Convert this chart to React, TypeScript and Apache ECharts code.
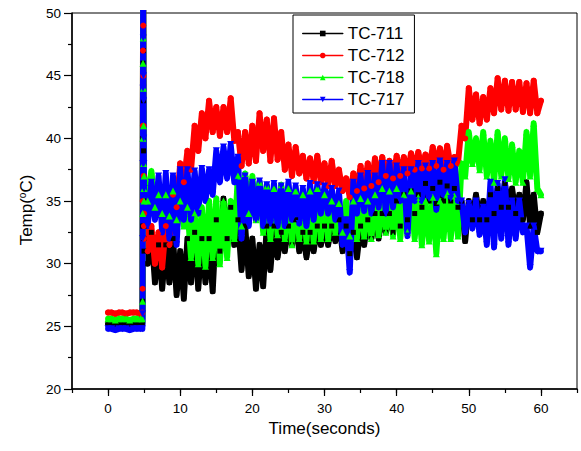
import React, { useEffect, useRef } from "react";
import * as echarts from "echarts";

// ---- time grids (seconds) ----
const flatTimes = [0, 0.5, 1, 1.5, 2, 2.5, 3, 3.5, 4, 4.5, 4.75];
const spikeTimes = [4.78, 4.8, 4.82, 4.84, 4.86, 4.88, 4.9, 4.92, 4.94, 4.96, 4.98];
const mainTimes = Array.from({ length: 111 }, (_, i) => 5 + 0.5 * i);

// ---- TC-711 (black) ----
const tc711Flat = [25.2, 25.1, 25.2, 25.2, 25.1, 25.2, 25.2, 25.1, 25.2, 25.2, 25.2];
const tc711Spike = [27, 33, 40, 46, 52, 47, 43, 39, 35, 32, 31];
const tc711Main = [
  33, 30, 32.5, 28.5, 31.5, 28, 31.5, 28.5, 32, 27.5,
  31, 27.2, 32, 28.5, 32.5, 28, 32, 28.5, 32, 27.8,
  33.5, 31, 35.2, 32, 34.5, 31.5, 33.5, 29.5, 33, 29,
  32, 28, 31.5, 28.2, 33, 29.5, 33, 30.5, 32.5, 31,
  33, 31.5, 33.5, 31, 32.5, 30.5, 32.5, 31, 33, 31.5,
  33, 31.5, 33, 31.8, 33.5, 31, 33, 30.8, 32.5, 30.5,
  33, 31.5, 33.5, 32, 34, 32, 34, 32.5, 34, 32.5,
  35, 33, 35.5, 33.5, 35.8, 34, 35.5, 34.5, 36.4, 35,
  36, 34.8, 36.5, 35, 36.2, 35, 36, 34.5, 35, 31.8,
  35, 33.5, 35.5, 33.5, 35, 33.5, 35.5, 34, 36, 34.5,
  36.4, 34.5, 36, 34, 35.5, 33.5, 36.5, 33, 35.5, 32.5,
  34,
];

// ---- TC-712 (red) ----
const tc712Flat = [26.1, 26.1, 26.0, 26.1, 26.1, 26.0, 26.1, 26.1, 26.1, 26.0, 26.1];
const tc712Spike = [28, 35, 41, 47, 53, 49, 45, 41, 37, 33, 32];
const tc712Main = [
  34, 31, 33, 30, 32.5, 29.7, 33, 31.5, 35.5, 34.5,
  38, 36.5, 39, 37.5, 41, 39, 42, 40, 43, 40.5,
  42.5, 40.2, 42.5, 40.5, 43.2, 39.8, 40.5, 37.8, 40.5, 38,
  41, 38.2, 42, 39, 41.5, 38.2, 41.6, 38.3, 40.5, 37.5,
  39.5, 37, 39.3, 37.2, 38.6, 36.8, 38.4, 36.6, 38.6, 36.5,
  38, 36.2, 38.2, 36.2, 37.5, 35.8, 36.8, 35.3, 37.2, 35.8,
  37.8, 36, 38, 36.2, 38.4, 36.5, 38.5, 37, 38.2, 36.8,
  38.6, 37, 38.5, 37.2, 38.8, 37.5, 38.9, 37.6, 38.7, 37.6,
  39.3, 37.8, 39.2, 37.5, 39.4, 37.8, 38.5, 38, 41, 40,
  44, 41.5, 43.5, 41.2, 43.3, 41.5, 44, 42, 44.8, 42.3,
  44.6, 42.2, 44.5, 42.3, 44.5, 42.1, 44.4, 42, 44.6, 42,
  43,
];

// ---- TC-718 (green) ----
const tc718Flat = [25.6, 25.6, 25.5, 25.6, 25.6, 25.6, 25.5, 25.6, 25.6, 25.6, 25.6];
const tc718Spike = [27, 34, 40, 46, 53, 48, 44, 41, 38, 36, 35];
const tc718Main = [
  37, 35, 37.4, 34.5, 35.5, 34, 35.5, 33.8, 35.8, 33.5,
  35, 33, 34.5, 30.5, 34, 30, 34.5, 29.8, 35, 30.5,
  35.2, 30, 35, 30.5, 35, 32, 37, 33, 37.2, 34,
  37, 33.5, 36.5, 32.5, 36.2, 32, 36, 32.3, 36.3, 32,
  36, 31.5, 35.8, 32, 35.5, 31.8, 35.8, 31.8, 36, 32,
  35.5, 32, 35, 32.5, 34.8, 32.5, 35, 32.2, 35, 32,
  35.2, 32.2, 35, 32, 35.5, 32.3, 36, 32.5, 35.8, 32.2,
  36, 32, 35.5, 32.5, 35.8, 32, 35.3, 31.5, 35, 31.8,
  35.3, 30.8, 35, 32, 35.6, 32, 35.4, 32.2, 38, 37,
  40.5, 38, 40, 37.5, 40.5, 37, 39.8, 36.5, 40.5, 37,
  40, 36.8, 39.5, 36.5, 39, 36.5, 40.5, 37, 41.2, 36,
  35.5,
];

// ---- TC-717 (blue) ----
const tc717Flat = [24.8, 24.8, 24.7, 24.8, 24.8, 24.8, 24.7, 24.8, 24.8, 24.8, 24.8];
const tc717Spike = [26, 32, 38, 44, 52, 48, 45, 43, 40, 38, 36];
const tc717Main = [
  36, 33, 36.5, 33.5, 37, 32.5, 37.2, 32, 37, 31.5,
  37.5, 33.5, 37.5, 33.5, 37.4, 34, 37.6, 35, 37.5, 35.5,
  39, 36.5, 39.3, 36.8, 39.5, 36.5, 38.5, 32, 37, 33,
  36.5, 33.5, 36.6, 33, 36.3, 33.2, 36.4, 33, 36.2, 33,
  36.5, 33.5, 36.2, 33.2, 36, 33, 36.4, 33.5, 36.3, 34,
  36.2, 34, 36, 33.5, 35.8, 31.5, 33.5, 29.3, 36.5, 34,
  37, 34.2, 37.2, 34, 37, 34.5, 38, 34, 38, 34.5,
  37.8, 35, 37.5, 32.2, 37.5, 35, 38, 35, 37.8, 35.2,
  38, 34.3, 38.2, 35.5, 38, 35.2, 38.2, 35, 35, 32.5,
  34.8, 32.8, 35, 32.3, 34.5, 31.5, 36.5, 31.3, 36.4, 32,
  36.7, 31.5, 35, 32, 35, 32.5, 33, 29.7, 33, 31,
  31,
];

const xMajorTicks = [0, 10, 20, 30, 40, 50, 60];

function toPairs(flat: number[], spike: number[], main: number[]) {
  const out: number[][] = [];
  flatTimes.forEach((t, i) => out.push([t, flat[i]]));
  spikeTimes.forEach((t, i) => out.push([t, spike[i]]));
  mainTimes.forEach((t, i) => out.push([t, main[i]]));
  return out;
}

const FONT = "'Liberation Sans', Arial, sans-serif";

export default function App() {
  const ref = useRef<HTMLDivElement>(null);
  useEffect(() => {
    document.body.style.margin = "0";
    if (!ref.current) return;
    const chart = echarts.init(ref.current, undefined, { renderer: "svg" });
    const mk = (name: string, color: string, symbol: string, size: number, rot: number, data: number[][]) => ({
      name,
      type: "line",
      data,
      symbol,
      symbolSize: size,
      symbolRotate: rot,
      showSymbol: true,
      showAllSymbol: true,
      lineStyle: { color, width: 6, join: "round", cap: "round" },
      itemStyle: { color },
      emphasis: { disabled: true },
      clip: true,
    });
    chart.setOption({
      animation: false,
      backgroundColor: "#fff",
      textStyle: { fontFamily: FONT },
      grid: {
        left: 72,
        right: 4,
        top: 13,
        bottom: 62,
        show: true,
        borderColor: "#000",
        borderWidth: 1,
        backgroundColor: "transparent",
      },
      legend: {
        orient: "vertical",
        left: 293,
        top: 15,
        padding: [10, 10, 5, 9],
        itemWidth: 40,
        itemHeight: 7,
        itemGap: 5,
        borderColor: "#000",
        borderWidth: 1,
        backgroundColor: "#fff",
        textStyle: { fontSize: 17, color: "#000", fontFamily: FONT },
        lineStyle: { width: 1.5 },
        data: ["TC-711", "TC-712", "TC-718", "TC-717"],
      },
      xAxis: [
        {
          type: "value",
          min: -5,
          max: 65,
          interval: 5,
          name: "Time(seconds)",
          nameLocation: "middle",
          nameGap: 31,
          nameTextStyle: { fontSize: 17, color: "#000", fontFamily: FONT },
          axisLine: { show: true, onZero: false, lineStyle: { color: "#000", width: 1.5 } },
          axisTick: { show: true, inside: false, length: 4, lineStyle: { color: "#000", width: 1.2 } },
          axisLabel: {
            color: "#000",
            fontSize: 13.5,
            margin: 12,
            fontFamily: FONT,
            formatter: (v: number) => (v >= 0 && v <= 60 && v % 10 === 0 ? String(v) : ""),
          },
          splitLine: { show: false },
        },
        {
          type: "value",
          min: -5,
          max: 65,
          position: "bottom",
          axisLine: { show: false, onZero: false },
          axisTick: {
            show: true,
            length: 7,
            customValues: xMajorTicks,
            lineStyle: { color: "#000", width: 1.2 },
          },
          axisLabel: { show: false },
          splitLine: { show: false },
        },
      ],
      yAxis: {
        type: "value",
        min: 20,
        max: 50,
        interval: 5,
        axisLine: { show: true, onZero: false, lineStyle: { color: "#000", width: 1.5 } },
        axisTick: { show: true, length: 8, lineStyle: { color: "#000", width: 1.2 } },
        minorTick: { show: true, splitNumber: 2, length: 4, lineStyle: { color: "#000", width: 1.2 } },
        axisLabel: { color: "#000", fontSize: 13.5, margin: 11, fontFamily: FONT },
        splitLine: { show: false },
      },
      graphic: [
        {
          type: "text",
          x: 26,
          y: 210,
          rotation: Math.PI / 2,
          style: {
            text: "Temp({sup|o}C)",
            fontSize: 17,
            fontFamily: FONT,
            fill: "#000",
            align: "center",
            verticalAlign: "middle",
            rich: {
              sup: { fontSize: 10, verticalAlign: "top", fill: "#000", fontFamily: FONT },
            },
          },
        },
      ],
      series: [
        mk("TC-711", "#000000", "rect", 5, 0, toPairs(tc711Flat, tc711Spike, tc711Main)),
        mk("TC-712", "#ff0000", "circle", 6, 0, toPairs(tc712Flat, tc712Spike, tc712Main)),
        mk("TC-718", "#00ff00", "triangle", 7, 0, toPairs(tc718Flat, tc718Spike, tc718Main)),
        mk("TC-717", "#0000ff", "triangle", 7, 180, toPairs(tc717Flat, tc717Spike, tc717Main)),
      ],
    });
    return () => chart.dispose();
  }, []);
  return <div ref={ref} style={{ width: 581, height: 451 }} />;
}
